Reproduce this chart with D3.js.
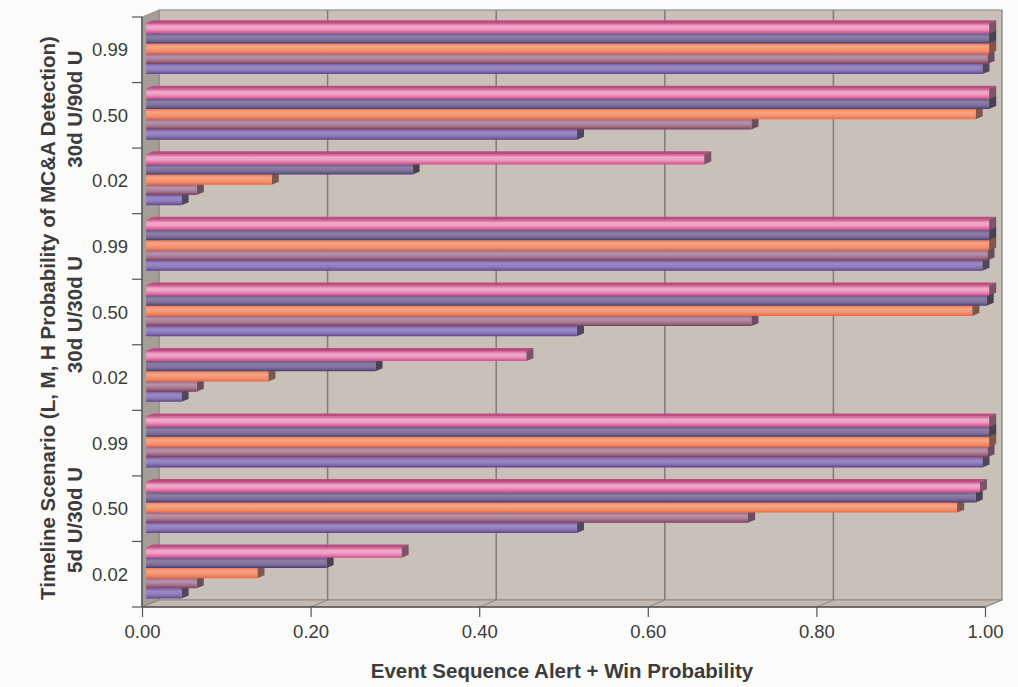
<!DOCTYPE html>
<html>
<head>
<meta charset="utf-8">
<script src="https://cdn.jsdelivr.net/npm/d3@7"></script>
<style>
  html, body { margin: 0; padding: 0; background: #fbfbf9; }
  svg { display: block; }
  text { font-family: "Liberation Sans", Arial, sans-serif; fill: #3c3c3c; }
</style>
</head>
<body>
<svg id="chart" width="1018" height="687"></svg>
<script>
// Scenario groups and detection levels (bottom to top)
const scenarios = ["5d U/30d U", "30d U/30d U", "30d U/90d U"];
const detection = ["0.02", "0.50", "0.99"];
const xTicks = [0, 0.2, 0.4, 0.6, 0.8, 1.0];

// Alert + win probability per series, ordered scenario by scenario, low to high detection
const series1 = [0.042, 0.511, 0.992, 0.042, 0.511, 0.992, 0.042, 0.511, 0.992];
const series2 = [0.060, 0.714, 0.998, 0.060, 0.718, 0.998, 0.060, 0.718, 0.998];
const series3 = [0.132, 0.962, 1.000, 0.145, 0.980, 1.000, 0.149, 0.984, 1.000];
const series4 = [0.214, 0.984, 1.000, 0.272, 0.997, 1.000, 0.316, 1.000, 1.000];
const series5 = [0.303, 0.989, 1.000, 0.451, 1.000, 1.000, 0.662, 1.000, 1.000];

const seriesNames = ["series1", "series2", "series3", "series4", "series5"];
const seriesValues = [series1, series2, series3, series4, series5];

// Shading bands for each series' bars (top edge to bottom edge)
const barShades = [
  ["#7a5ea6", "#9c8ac4", "#9280bc", "#8068ae", "#5c4284"],
  ["#986684", "#b892aa", "#ac8299", "#98647f", "#7a3c5a"],
  ["#ee7a58", "#f6a585", "#f49876", "#f18664", "#e8683e"],
  ["#665882", "#8c7ea4", "#8475a0", "#706290", "#483a66"],
  ["#d0558f", "#efaacb", "#eca0c4", "#e675aa", "#d24a88"]
];
const capColors = ["#4e4760", "#6a4e5e", "#7d574e", "#474152", "#7c5466"];

const categories = [];
scenarios.forEach(s => detection.forEach(d => categories.push({ scenario: s, level: d, key: s + "|" + d })));

const svg = d3.select("#chart");
const defs = svg.append("defs");

// Plot geometry: front plane scales plus a depth offset toward the back wall
const x = d3.scaleLinear().domain([0, 1]).range([142, 985]);
const y = d3.scaleBand().domain(categories.map(c => c.key)).range([607, 17]);
const depthX = 17, depthY = -7;
const inner = d3.scaleBand().domain(d3.reverse(seriesNames.slice()))
  .range([7.8, y.bandwidth() - 6.8]).padding(0);

const proj = (px, py, d) => [px + depthX * d, py + depthY * d];

// Walls
const x0 = x(0), x1 = x(1), yT = 17, yB = 607;
const poly = pts => "M" + pts.map(p => p.join(",")).join("L") + "Z";

svg.append("path") // back wall
  .attr("d", poly([proj(x0, yT, 1), proj(x1, yT, 1), proj(x1, yB, 1), proj(x0, yB, 1)]))
  .attr("fill", "#c9c1b9").attr("stroke", "#808080").attr("stroke-width", 1.2);
svg.append("path") // side wall
  .attr("d", poly([[x0, yT], proj(x0, yT, 1), proj(x0, yB, 1), [x0, yB]]))
  .attr("fill", "#a59e96").attr("stroke", "#8a8580").attr("stroke-width", 0.8);
svg.append("path") // floor
  .attr("d", poly([[x0, yB], proj(x0, yB, 1), proj(x1, yB, 1), [x1, yB]]))
  .attr("fill", "#c2bab2").attr("stroke", "#8a8580").attr("stroke-width", 0.8);

// Gridlines on back wall and floor
const grid = svg.append("g");
xTicks.filter(t => t > 0 && t < 1).forEach(t => {
  const b0 = proj(x(t), yT, 1), b1 = proj(x(t), yB, 1);
  grid.append("line").attr("x1", b0[0]).attr("y1", b0[1]).attr("x2", b1[0]).attr("y2", b1[1])
    .attr("stroke", "#7c7c7c").attr("stroke-width", 1.5);
});
xTicks.forEach(t => {
  const b1 = proj(x(t), yB, 1);
  grid.append("line").attr("x1", x(t)).attr("y1", yB).attr("x2", b1[0]).attr("y2", b1[1])
    .attr("stroke", "#8a8580").attr("stroke-width", 1);
});

// Gradients
barShades.forEach((shades, i) => {
  const g = defs.append("linearGradient").attr("id", "grad" + i)
    .attr("x1", 0).attr("y1", 0).attr("x2", 0).attr("y2", 1);
  const stops = [0, 0.3, 0.55, 0.78, 1];
  shades.forEach((c, j) => g.append("stop").attr("offset", stops[j]).attr("stop-color", c));
});

// Bars
const dF = 0.24, dB = 0.66;
const bars = [];
categories.forEach((c, ci) => {
  seriesNames.forEach((s, si) => {
    bars.push({ cat: c, series: s, si, value: seriesValues[si][ci] });
  });
});

const barLayer = svg.append("g");
const groups = barLayer.selectAll("g.bar")
  .data(bars)
  .join("g").attr("class", "bar");

groups.each(function (d) {
  const g = d3.select(this);
  const top = y(d.cat.key) + inner(d.series);
  const h = inner.bandwidth();
  const xs = x(0), xe = x(d.value);
  const a = proj(xs, top, dF), b = proj(xe, top, dF), c = proj(xe, top + h, dF), e = proj(xs, top + h, dF);
  const bb = proj(xe, top, dB), cb = proj(xe, top + h, dB), ab = proj(xs, top, dB);
  // top face (only visible on the uppermost bar of a group)
  g.append("path").attr("d", poly([a, ab, bb, b]))
    .attr("fill", d3.color(barShades[d.si][0]).darker(0.3));
  // end cap
  g.append("path").attr("d", poly([b, bb, cb, c])).attr("fill", capColors[d.si]);
  // front face
  g.append("path").attr("d", poly([a, b, c, e])).attr("fill", "url(#grad" + d.si + ")");
});

// Left axis line and ticks at category boundaries
const axis = svg.append("g");
axis.append("line").attr("x1", x0).attr("x2", x0).attr("y1", yT).attr("y2", yB)
  .attr("stroke", "#555").attr("stroke-width", 1.5);
const bounds = categories.map(c => y(c.key)).concat([yB]);
axis.selectAll("line.ytick").data(bounds).join("line").attr("class", "ytick")
  .attr("x1", x0 - 10).attr("x2", x0).attr("y1", d => d).attr("y2", d => d)
  .attr("stroke", "#555").attr("stroke-width", 1.2);

axis.selectAll("text.ylab").data(categories).join("text").attr("class", "ylab")
  .attr("x", 128).attr("y", d => y(d.key) + y.bandwidth() / 2)
  .attr("text-anchor", "end").attr("dominant-baseline", "central")
  .style("font-size", "18.5px").text(d => d.level);

// Front floor edge and x ticks
axis.append("line").attr("x1", x0).attr("x2", x1).attr("y1", yB).attr("y2", yB)
  .attr("stroke", "#555").attr("stroke-width", 1.5);
const xAxis = d3.axisBottom(x).tickValues(xTicks).tickFormat(d3.format(".2f")).tickSize(10).tickPadding(8);
const xg = svg.append("g").attr("transform", `translate(0,${yB})`).call(xAxis);
xg.select(".domain").remove();
xg.selectAll(".tick line").attr("stroke", "#555").attr("stroke-width", 1.2);
xg.selectAll(".tick text").style("font-size", "18.5px").attr("fill", "#3c3c3c")
  .style("font-family", "'Liberation Sans', Arial, sans-serif");

// Axis titles
svg.append("text").attr("x", 562).attr("y", 678).attr("text-anchor", "middle")
  .style("font-size", "20.5px").style("font-weight", "bold")
  .text("Event Sequence Alert + Win Probability");

svg.append("text").attr("transform", "translate(55,318) rotate(-90)").attr("text-anchor", "middle")
  .style("font-size", "20.5px").style("font-weight", "bold")
  .text("Timeline Scenario (L, M, H Probability of MC&A Detection)");

// Scenario labels, spread slightly wider than the group centres
const groupCenter = s => {
  const ys = categories.filter(c => c.scenario === s).map(c => y(c.key));
  return (d3.min(ys) + d3.max(ys) + y.bandwidth()) / 2;
};
const spread = d3.scaleLinear().domain([groupCenter(scenarios[2]), groupCenter(scenarios[0])]).range([109, 520]);
svg.selectAll("text.scen").data(scenarios).join("text").attr("class", "scen")
  .attr("transform", d => `translate(82,${spread(groupCenter(d))}) rotate(-90)`)
  .attr("text-anchor", "middle")
  .style("font-size", "20.5px").style("font-weight", "bold")
  .text(d => d);
</script>
</body>
</html>
